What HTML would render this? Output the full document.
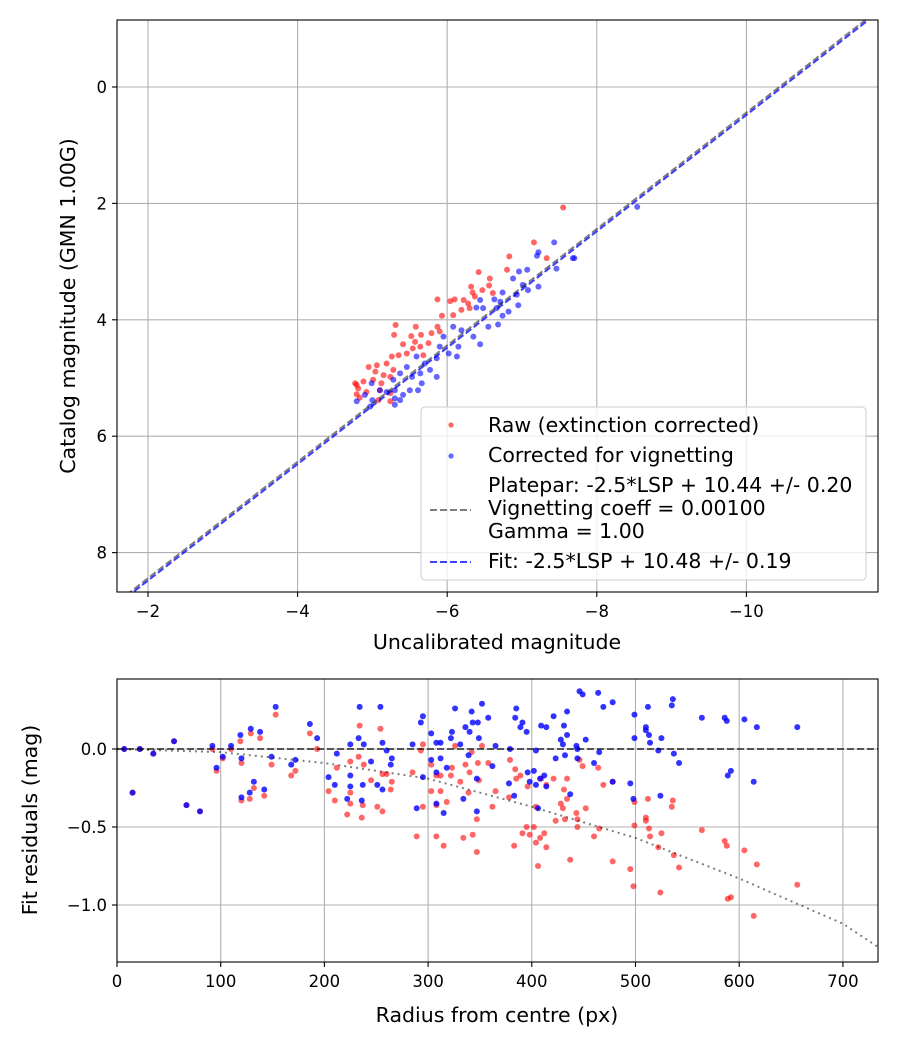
<!DOCTYPE html>
<html><head><meta charset="utf-8">
<style>
html,body{margin:0;padding:0;background:#fff;}
svg{display:block;font-family:"DejaVu Sans","Liberation Sans",sans-serif;}
</style></head>
<body>
<svg id="chart" width="900" height="1050" viewBox="0 0 900 1050" xmlns="http://www.w3.org/2000/svg">
<rect width="900" height="1050" fill="#fff"/>
<g id="topPanel"></g>
<g id="botPanel"></g>
</svg>
<script>
// ---------- Top panel data ----------
const topXTicks = [-2, -4, -6, -8, -10];
const topYTicks = [0, 2, 4, 6, 8];
const fitIntercept = 10.48;
const plateIntercept = 10.44;
const rawX = [-7.55,-7.16,-6.83,-7.33,-6.80,-6.42,-6.57,-6.32,-6.56,-6.47,-6.34,-6.61,-5.87,-6.04,-6.10,-6.22,-6.28,-6.37,-5.93,-6.08,-6.19,-6.30,-5.31,-5.58,-5.87,-5.29,-5.52,-5.65,-5.79,-5.90,-5.41,-5.57,-5.75,-5.54,-5.64,-5.26,-5.35,-5.46,-5.68,-4.95,-5.06,-5.19,-5.28,-5.04,-5.15,-5.24,-4.88,-5.01,-5.12,-4.77,-4.81,-4.92,-5.10,-5.24,-4.79,-5.24,-5.08,-4.79,-4.83];
const rawY = [2.07,2.67,2.91,2.94,3.14,3.18,3.29,3.43,3.41,3.49,3.53,3.54,3.65,3.68,3.65,3.66,3.72,3.60,3.93,3.92,3.83,3.80,4.09,4.12,4.12,4.26,4.28,4.26,4.23,4.20,4.42,4.38,4.40,4.49,4.46,4.63,4.61,4.58,4.61,4.81,4.78,4.75,4.86,4.89,4.95,4.98,5.06,5.03,5.09,5.09,5.18,5.24,5.21,5.26,5.28,5.40,5.38,5.12,5.34];
const corrX = [-7.43,-7.22,-7.20,-7.70,-7.46,-7.07,-6.96,-6.88,-7.01,-7.22,-7.08,-6.93,-6.74,-6.63,-6.71,-6.44,-6.39,-6.48,-6.66,-6.74,-6.82,-6.95,-6.55,-6.68,-6.44,-6.35,-6.19,-6.08,-5.95,-5.90,-6.15,-6.02,-6.13,-5.86,-5.70,-5.59,-5.77,-5.64,-5.46,-5.37,-5.28,-5.53,-5.66,-5.86,-4.99,-5.10,-5.19,-5.30,-4.90,-5.37,-5.41,-5.61,-4.79,-4.97,-5.30,-8.54,-7.68,-5.00,-5.30,-5.50];
const corrY = [2.67,2.84,2.90,2.94,3.12,3.14,3.17,3.29,3.40,3.43,3.49,3.57,3.53,3.65,3.69,3.66,3.79,3.80,3.80,3.93,3.86,3.75,4.12,4.08,4.42,4.29,4.18,4.12,4.29,4.46,4.46,4.58,4.63,4.66,4.75,4.63,4.86,4.92,4.81,4.92,5.03,4.98,5.09,4.98,5.09,5.21,5.24,5.21,5.29,5.38,5.29,5.21,5.40,5.49,5.35,2.06,2.94,5.38,5.46,5.21];

// ---------- Bottom panel data ----------
const botXTicks = [0,100,200,300,400,500,600,700];
const botYTicks = [0.0,-0.5,-1.0];
const botYTickLabels = ["0.0","\u22120.5","\u22121.0"];
const vigR = [0,100,200,300,400,500,600,700,734];
const vigV = [0,-0.02,-0.09,-0.19,-0.37,-0.57,-0.83,-1.12,-1.27];
const resR = [7,15,22,35,55,67,80,92,96,102,110,119,120,120,128,129,132,138,142,149,153,168,172,186,193,204,210,212,222,225,225,225,233,234,236,237,238,245,251,254,256,256,260,264,265,285,289,293,295,295,303,303,308,308,308,312,312,315,318,322,323,326,331,334,336,339,340,342,343,347,347,348,349,352,358,362,365,379,384,385,389,391,395,378,383,396,398,402,404,404,406,408,409,412,414,414,421,423,428,430,431,432,434,434,437,443,444,444,446,449,452,460,464,465,469,478,478,495,498,499,499,510,510,512,513,514,522,524,525,535,536,537,542,564,586,588,589,592,605,614,617,656];
const blueV = [0,-0.28,0,-0.03,0.05,-0.36,-0.40,0.02,-0.12,-0.05,0.02,0.09,-0.06,-0.31,-0.28,0.13,-0.21,0.11,-0.26,-0.05,0.27,-0.10,-0.07,0.16,0.07,-0.18,-0.23,-0.03,-0.32,0.03,-0.24,-0.17,0.07,0.27,-0.33,-0.23,0.03,-0.08,-0.23,0.27,0.04,-0.26,-0.01,-0.10,-0.06,0.03,-0.38,0.17,0.21,-0.18,0.10,-0.07,0.04,-0.15,-0.35,0.04,-0.06,-0.41,-0.12,0.07,0.11,0.26,0.03,-0.32,0.14,-0.04,0.11,0.24,0.17,-0.19,-0.40,0.17,0.07,0.29,0.20,-0.11,0.02,0.0,0.20,0.26,0.14,0.17,0.11,-0.22,-0.30,-0.15,-0.21,-0.14,-0.01,-0.23,-0.38,-0.19,0.15,-0.17,0.14,-0.24,0.21,-0.06,0.06,0.03,0.15,-0.04,0.24,0.09,-0.29,0.02,-0.06,0.0,0.37,0.35,0.06,-0.09,0.36,-0.02,0.27,0.30,-0.21,-0.22,-0.32,0.22,0.07,0.12,0.14,0.27,0.09,0.04,-0.01,-0.30,0.07,0.28,0.32,-0.03,-0.09,0.20,0.20,0.18,-0.17,-0.14,0.19,-0.21,0.14,0.14];
const redV = [0,-0.28,0,-0.03,0.05,-0.36,-0.40,0,-0.14,-0.06,0,0.05,-0.09,-0.33,-0.32,0.10,-0.25,0.07,-0.30,-0.10,0.22,-0.17,-0.14,0.10,0,-0.27,-0.33,-0.12,-0.42,-0.08,-0.28,-0.35,-0.05,0.15,-0.44,-0.36,-0.10,-0.20,-0.37,0.13,-0.16,-0.40,-0.16,-0.26,-0.21,-0.15,-0.56,-0.01,0.03,-0.37,-0.10,-0.27,-0.17,-0.56,-0.36,-0.17,-0.27,-0.62,-0.34,-0.17,-0.12,0.02,-0.21,-0.57,-0.10,-0.28,-0.15,-0.02,-0.55,-0.45,-0.66,-0.09,-0.20,0.02,-0.09,-0.37,-0.27,-0.07,-0.13,-0.19,-0.17,-0.54,-0.50,-0.31,-0.62,-0.24,-0.55,-0.50,-0.37,-0.60,-0.75,-0.57,-0.19,-0.54,-0.63,-0.23,-0.19,-0.46,-0.35,-0.38,-0.26,-0.45,-0.19,-0.32,-0.71,-0.41,-0.45,-0.50,-0.07,-0.11,-0.38,-0.56,-0.12,-0.51,-0.23,-0.72,-0.21,-0.77,-0.88,-0.34,-0.49,-0.46,-0.44,-0.32,-0.51,-0.56,-0.63,-0.92,-0.54,-0.37,-0.33,-0.68,-0.76,-0.52,-0.59,-0.62,-0.96,-0.95,-0.65,-1.07,-0.74,-0.87];

const NS = "http://www.w3.org/2000/svg";
function mk(parent, tag, attrs, text){
  const e = document.createElementNS(NS, tag);
  for (const k in attrs) e.setAttribute(k, attrs[k]);
  if (text !== undefined) e.textContent = text;
  parent.appendChild(e);
  return e;
}
const GRID = "#b0b0b0";
const LFS = 20.5;
const PR = 3;

// ---------- TOP ----------
const TA = {x0:117, x1:878, y0:20, y1:592};
const txs = v => 148 + (-v - 2) * 74.8;
const tys = v => 87 + v * 58.2;
const topG = document.getElementById('topPanel');
const tClip = mk(topG,'clipPath',{id:'tclip'});
mk(tClip,'rect',{x:TA.x0,y:TA.y0,width:TA.x1-TA.x0,height:TA.y1-TA.y0});
topXTicks.forEach(v=>{
  const g = mk(topG,'line',{x1:txs(v),x2:txs(v),y1:TA.y0,y2:TA.y1,stroke:GRID,'stroke-width':1.1});
  
  
  mk(topG,'line',{x1:txs(v),x2:txs(v),y1:TA.y1,y2:TA.y1+5,stroke:'#000','stroke-width':1.1});
  const t = mk(topG,'text',{x:txs(v),y:TA.y1+25,'text-anchor':'middle','font-size':16.5},String(v).replace('-','\u2212'));
  
  
});
topYTicks.forEach(v=>{
  const g = mk(topG,'line',{x1:TA.x0,x2:TA.x1,y1:tys(v),y2:tys(v),stroke:GRID,'stroke-width':1.1});
  
  
  mk(topG,'line',{x1:TA.x0-5,x2:TA.x0,y1:tys(v),y2:tys(v),stroke:'#000','stroke-width':1.1});
  const t = mk(topG,'text',{x:TA.x0-10,y:tys(v)+6,'text-anchor':'end','font-size':16.5},String(v));
  
  
});
const tPlot = mk(topG,'g',{'clip-path':'url(#tclip)'});
rawX.forEach((v,i)=>{
  const c = mk(tPlot,'circle',{cx:txs(v),cy:tys(rawY[i]),r:PR,fill:'#ff0000','fill-opacity':0.6});
  
  
});
corrX.forEach((v,i)=>{
  const c = mk(tPlot,'circle',{cx:txs(v),cy:tys(corrY[i]),r:PR,fill:'#0000ff','fill-opacity':0.6});
  
  
});
const xa = -1.5, xb = -12;
const pl = mk(tPlot,'line',{x1:txs(xa),y1:tys(xa+plateIntercept),x2:txs(xb),y2:tys(xb+plateIntercept),stroke:'#000','stroke-opacity':0.5,'stroke-width':2,'stroke-dasharray':'7,3'});


const fl = mk(tPlot,'line',{x1:txs(xa),y1:tys(xa+fitIntercept),x2:txs(xb),y2:tys(xb+fitIntercept),stroke:'#0000ff','stroke-opacity':0.75,'stroke-width':2,'stroke-dasharray':'7,3'});


const tf = mk(topG,'rect',{x:TA.x0,y:TA.y0,width:TA.x1-TA.x0,height:TA.y1-TA.y0,fill:'none',stroke:'#000','stroke-width':1.1});


const txl = mk(topG,'text',{x:497,y:649,'text-anchor':'middle','font-size':LFS},'Uncalibrated magnitude');


const tyl = mk(topG,'text',{x:75,y:306,'text-anchor':'middle','font-size':LFS,transform:'rotate(-90 75 306)'},'Catalog magnitude (GMN 1.00G)');



// legend
const lg = mk(topG,'g',{});


mk(lg,'rect',{x:421,y:407,width:445,height:173,rx:4,fill:'#fff','fill-opacity':0.8,stroke:'#cccccc','stroke-width':1});
const legendItems = [
 ['legend-entry-raw', 432, 'Raw (extinction corrected)'],
 ['legend-entry-corrected', 462, 'Corrected for vignetting']
];
mk(lg,'circle',{cx:451,cy:425,r:2.6,fill:'#ff0000','fill-opacity':0.6});
mk(lg,'circle',{cx:451,cy:456,r:2.6,fill:'#0000ff','fill-opacity':0.6});
legendItems.forEach(l=>{
  const t = mk(lg,'text',{x:488,y:l[1],'font-size':LFS},l[2]);
  
  
});
mk(lg,'line',{x1:430,x2:471,y1:510,y2:510,stroke:'#000','stroke-opacity':0.5,'stroke-width':2,'stroke-dasharray':'7,3'});
['Platepar: -2.5*LSP + 10.44 +/- 0.20','Vignetting coeff = 0.00100','Gamma = 1.00'].forEach((s,i)=>{
  const t = mk(lg,'text',{x:488,y:492+i*23,'font-size':LFS},s);
  
  
});
mk(lg,'line',{x1:430,x2:471,y1:562,y2:562,stroke:'#0000ff','stroke-opacity':0.75,'stroke-width':2,'stroke-dasharray':'7,3'});
const lf = mk(lg,'text',{x:488,y:568,'font-size':LFS},'Fit: -2.5*LSP + 10.48 +/- 0.19');



// ---------- BOTTOM ----------
const BA = {x0:117, x1:878, y0:679, y1:962};
const bxs = v => 117 + v * 1.037;
const bys = v => 749 - v * 156;
const botG = document.getElementById('botPanel');
const bClip = mk(botG,'clipPath',{id:'bclip'});
mk(bClip,'rect',{x:BA.x0,y:BA.y0,width:BA.x1-BA.x0,height:BA.y1-BA.y0});
botXTicks.forEach(v=>{
  const g = mk(botG,'line',{x1:bxs(v),x2:bxs(v),y1:BA.y0,y2:BA.y1,stroke:GRID,'stroke-width':1.1});
  
  
  mk(botG,'line',{x1:bxs(v),x2:bxs(v),y1:BA.y1,y2:BA.y1+5,stroke:'#000','stroke-width':1.1});
  const t = mk(botG,'text',{x:bxs(v),y:BA.y1+25,'text-anchor':'middle','font-size':16.5},String(v));
  
  
});
botYTicks.forEach((v,i)=>{
  const g = mk(botG,'line',{x1:BA.x0,x2:BA.x1,y1:bys(v),y2:bys(v),stroke:GRID,'stroke-width':1.1});
  
  
  mk(botG,'line',{x1:BA.x0-5,x2:BA.x0,y1:bys(v),y2:bys(v),stroke:'#000','stroke-width':1.1});
  const t = mk(botG,'text',{x:BA.x0-10,y:bys(v)+6,'text-anchor':'end','font-size':16.5},botYTickLabels[i]);
  
  
});
const bPlot = mk(botG,'g',{'clip-path':'url(#bclip)'});
resR.forEach((r,i)=>{
  const c = mk(bPlot,'circle',{cx:bxs(r),cy:bys(redV[i]),r:PR,fill:'#ff0000','fill-opacity':0.6});
  
  
});
resR.forEach((r,i)=>{
  const c = mk(bPlot,'circle',{cx:bxs(r),cy:bys(blueV[i]),r:PR,fill:'#0000ff','fill-opacity':0.8});
  
  
});
const zl = mk(bPlot,'line',{x1:BA.x0,x2:BA.x1,y1:bys(0),y2:bys(0),stroke:'#000','stroke-opacity':0.6,'stroke-width':2,'stroke-dasharray':'7,3'});


const vp = mk(bPlot,'polyline',{points:vigR.map((r,i)=>bxs(r)+','+bys(vigV[i])).join(' '),fill:'none',stroke:'#000','stroke-opacity':0.5,'stroke-width':2,'stroke-dasharray':'2,4'});


const bf = mk(botG,'rect',{x:BA.x0,y:BA.y0,width:BA.x1-BA.x0,height:BA.y1-BA.y0,fill:'none',stroke:'#000','stroke-width':1.1});


const bxl = mk(botG,'text',{x:497,y:1022,'text-anchor':'middle','font-size':LFS},'Radius from centre (px)');


const byl = mk(botG,'text',{x:37,y:820,'text-anchor':'middle','font-size':LFS,transform:'rotate(-90 37 820)'},'Fit residuals (mag)');


</script>
</body></html>
